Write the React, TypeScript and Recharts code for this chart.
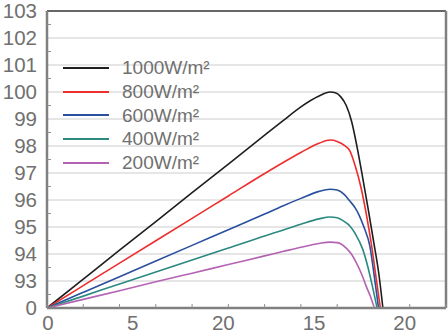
import { LineChart, Line, XAxis, YAxis, CartesianGrid, Legend, ReferenceLine } from 'recharts';

// Power vs voltage curves at five irradiance levels (y is the axis index, 0..11)
const yTickLabels = ['0', '93', '94', '95', '96', '97', '98', '99', '100', '101', '102', '103'];
const yTicks = [0, 0.5, 1, 1.5, 2, 2.5, 3, 3.5, 4, 4.5, 5, 5.5, 6, 6.5, 7, 7.5, 8, 8.5, 9, 9.5, 10, 10.5, 11];
const xTicks = [0, 2, 4, 5, 6, 8, 10, 12, 14, 15, 16, 18, 20, 22];
const xTickLabels: Record<number, string> = { 0: '0', 5: '5', 10: '20', 15: '15', 20: '20' };
const gridValues = [1, 2, 3, 4, 5, 6, 7, 8, 9, 10];

const s1000 = [[0, 0], [2, 1.07], [4, 2.14], [6, 3.2], [8, 4.27], [10, 5.33], [12, 6.4], [13, 6.93], [14, 7.45], [15, 7.85], [15.6, 8.0], [15.9, 7.97], [16.2, 7.82], [16.5, 7.5], [16.8, 6.9], [17.1, 5.95], [17.4, 4.85], [17.7, 3.7], [18.0, 2.5], [18.3, 1.25], [18.52, 0]];
const s800 = [[0, 0], [2, 0.83], [4, 1.66], [6, 2.49], [8, 3.32], [10, 4.15], [12, 4.98], [13, 5.38], [14, 5.76], [15, 6.1], [15.6, 6.22], [16.0, 6.17], [16.4, 6.02], [16.7, 5.82], [17.0, 5.25], [17.3, 4.5], [17.6, 3.5], [17.9, 2.3], [18.15, 1.1], [18.38, 0]];
const s600 = [[0, 0], [2, 0.58], [4, 1.16], [6, 1.74], [8, 2.32], [10, 2.9], [12, 3.48], [13, 3.78], [14, 4.06], [15, 4.32], [15.6, 4.4], [16.0, 4.37], [16.4, 4.2], [16.7, 3.96], [17.0, 3.7], [17.2, 3.45], [17.5, 2.95], [17.8, 2.3], [18.05, 1.15], [18.28, 0]];
const s400 = [[0, 0], [2, 0.44], [4, 0.89], [6, 1.33], [8, 1.78], [10, 2.22], [12, 2.67], [13, 2.88], [14, 3.1], [15, 3.3], [15.6, 3.37], [16.0, 3.34], [16.4, 3.2], [16.7, 3.04], [17.0, 2.75], [17.4, 2.19], [17.7, 1.5], [17.9, 0.93], [18.2, 0]];
const s200 = [[0, 0], [2, 0.32], [4, 0.64], [6, 0.97], [8, 1.29], [10, 1.61], [12, 1.93], [13, 2.09], [14, 2.25], [15, 2.39], [15.6, 2.44], [16.0, 2.42], [16.5, 2.22], [16.8, 1.98], [17.06, 1.67], [17.35, 1.25], [17.6, 0.81], [17.85, 0.4], [18.05, 0]];

const series = [
  { name: '1000W/m²', color: '#1e1e1e', pts: s1000 },
  { name: '800W/m²', color: '#ee2d2d', pts: s800 },
  { name: '600W/m²', color: '#2a4f9e', pts: s600 },
  { name: '400W/m²', color: '#2a8a80', pts: s400 },
  { name: '200W/m²', color: '#b463b4', pts: s200 },
];

const FONT = '"Liberation Sans", Arial, sans-serif';
const TEXT = '#707070';

const YTick = ({ x, y, payload }: any) => {
  const v = payload.value;
  if (Number.isInteger(v)) {
    return (
      <text x={x} y={y} dy="0.355em" textAnchor="end" fontSize={20.5} fill={TEXT} fontFamily={FONT}>
        {yTickLabels[v]}
      </text>
    );
  }
  return <line x1={x + 10} x2={x + 14} y1={y} y2={y} stroke="#909090" strokeWidth={1} />;
};

const XTick = ({ x, y, payload }: any) => {
  const v = payload.value;
  return (
    <g>
      {v % 2 === 0 && <line x1={x} x2={x} y1={y - 7} y2={y - 11} stroke="#909090" strokeWidth={1} />}
      {xTickLabels[v] !== undefined && (
        <text x={v === 0 ? x + 1 : x - 5} y={y} dy="0.71em" textAnchor="middle" fontSize={20.5} fill={TEXT} fontFamily={FONT}>
          {xTickLabels[v]}
        </text>
      )}
    </g>
  );
};

const renderLegend = () => (
  <div style={{ fontFamily: FONT }}>
    {series.map((s) => (
      <div key={s.name} style={{ display: 'flex', alignItems: 'center', height: 23.7 }}>
        <div style={{ width: 46, height: 2, background: s.color, marginRight: 13 }} />
        <span style={{ fontSize: 19, color: TEXT, lineHeight: '19px' }}>{s.name}</span>
      </div>
    ))}
  </div>
);

export default function App() {
  return (
    <div style={{ width: 448, height: 333, position: 'relative' }}>
      <style>{'body{margin:0}'}</style>
      <LineChart width={448} height={333} margin={{ top: 11, right: 2, left: 0, bottom: 0 }}>
        <CartesianGrid vertical={false} horizontalValues={gridValues} stroke="#cccccc" />
        <XAxis
          type="number"
          dataKey="u"
          domain={[0, 22]}
          ticks={xTicks}
          interval={0}
          tick={<XTick />}
          tickLine={false}
          tickSize={0}
          tickMargin={7}
          height={25}
          axisLine={{ stroke: '#808080', strokeWidth: 2.5 }}
        />
        <YAxis
          type="number"
          domain={[0, 11]}
          ticks={yTicks}
          interval={0}
          tick={<YTick />}
          tickLine={false}
          tickSize={0}
          tickMargin={10}
          width={47}
          axisLine={{ stroke: '#808080', strokeWidth: 2.5 }}
        />
        <ReferenceLine y={11} stroke="#333333" strokeWidth={1.5} />
        <ReferenceLine x={22} stroke="#808080" strokeWidth={2.5} />
        {series.map((s) => (
          <Line
            key={s.name}
            name={s.name}
            data={s.pts.map(([u, p]) => ({ u, p }))}
            dataKey="p"
            type="monotone"
            stroke={s.color}
            strokeWidth={1.6}
            dot={false}
            isAnimationActive={false}
          />
        ))}
        <Legend
          layout="horizontal"
          verticalAlign="middle"
          align="center"
          content={renderLegend}
          wrapperStyle={{ position: 'absolute', left: 63, top: 56, width: 200, height: 120 }}
        />
      </LineChart>
    </div>
  );
}
